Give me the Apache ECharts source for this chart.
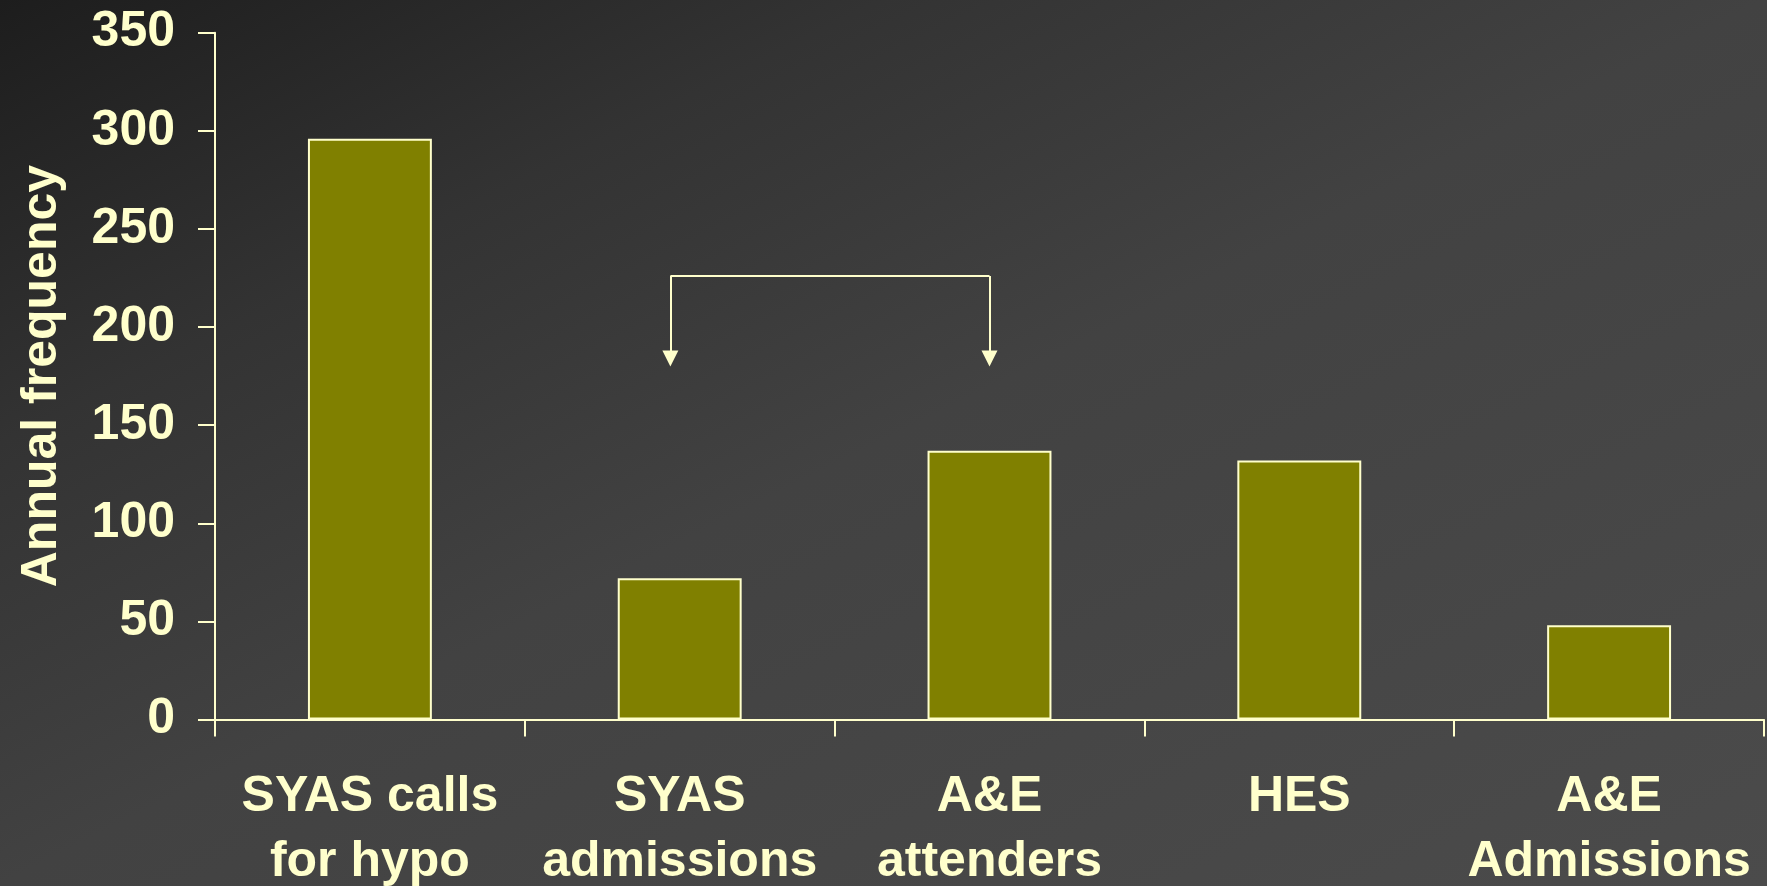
<!DOCTYPE html>
<html>
<head>
<meta charset="utf-8">
<script src="https://cdn.jsdelivr.net/npm/echarts@6/dist/echarts.min.js"></script>
<style>
html,body{margin:0;padding:0;background:#333;}
#chart{width:1767px;height:886px;}
</style>
</head>
<body>
<div id="chart"></div>
<script>
const categories = ['SYAS calls\nfor hypo', 'SYAS\nadmissions', 'A&E\nattenders', 'HES', 'A&E\nAdmissions'];
const values = [296, 72, 137, 132, 48];
const yTicks = [0, 50, 100, 150, 200, 250, 300, 350];
const yAxisName = 'Annual frequency';
// bracket annotation: from category position to category position, top value, arrow end value
const arrowFrom = 0.97;
const arrowTo = 2;
const arrowTop = 226;
const arrowEnd = 184;

const cream = '#ffffcc';
const font = '"Liberation Sans", Arial, sans-serif';

const chart = echarts.init(document.getElementById('chart'));
chart.setOption({
  animation: false,
  backgroundColor: {
    type: 'linear', global: true, x: 0, y: 0, x2: 886, y2: 1767,
    colorStops: [
      {offset: 0, color: '#1d1d1d'},
      {offset: 0.2, color: '#333333'},
      {offset: 0.4, color: '#424242'},
      {offset: 0.8, color: '#4b4b4b'},
      {offset: 1, color: '#4b4b4b'}
    ]
  },
  grid: {left: 215, right: 3, top: 32.7, bottom: 166.5, containLabel: false, outerBoundsMode: 'none'},
  xAxis: [{
    type: 'category',
    data: categories,
    boundaryGap: true,
    axisLine: {onZero: false, lineStyle: {color: cream, width: 2}},
    axisTick: {show: true, length: 17, lineStyle: {color: cream, width: 2}},
    axisLabel: {
      color: cream, fontFamily: font, fontWeight: 'bold', fontSize: 50,
      lineHeight: 65, margin: 45, interval: 0, align: 'center'
    },
    splitLine: {show: false}
  }, {
    type: 'value',
    show: false,
    min: -0.5,
    max: categories.length - 0.5,
    position: 'bottom'
  }],
  yAxis: {
    type: 'value',
    min: yTicks[0],
    max: yTicks[yTicks.length - 1],
    interval: yTicks[1] - yTicks[0],
    name: yAxisName,
    nameLocation: 'middle',
    nameGap: 148,
    nameTextStyle: {color: cream, fontFamily: font, fontWeight: 'bold', fontSize: 50},
    axisLine: {show: true, onZero: false, lineStyle: {color: cream, width: 2}},
    axisTick: {show: true, length: 17, lineStyle: {color: cream, width: 2}},
    axisLabel: {color: cream, fontFamily: font, fontWeight: 'bold', fontSize: 50, margin: 40},
    splitLine: {show: false}
  },
  series: [{
    type: 'bar',
    data: values,
    barWidth: '40%',
    itemStyle: {color: '#808000', borderColor: cream, borderWidth: 2}
  }, {
    type: 'line',
    xAxisIndex: 1,
    data: [],
    silent: true,
    markLine: {
      silent: true,
      animation: false,
      symbolSize: 16,
      label: {show: false},
      emphasis: {disabled: true},
      lineStyle: {color: cream, width: 2, type: 'solid'},
      data: [
        [{coord: [arrowFrom, arrowTop], symbol: 'none'}, {coord: [arrowTo, arrowTop], symbol: 'none'}],
        [{coord: [arrowFrom, arrowTop], symbol: 'none'}, {coord: [arrowFrom, arrowEnd], symbol: 'triangle', symbolSize: 16}],
        [{coord: [arrowTo, arrowTop], symbol: 'none'}, {coord: [arrowTo, arrowEnd], symbol: 'triangle', symbolSize: 16}]
      ]
    }
  }]
});
</script>
</body>
</html>
